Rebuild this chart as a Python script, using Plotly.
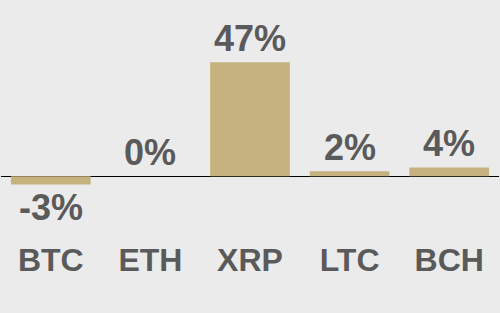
import plotly.graph_objects as go

categories = ["BTC", "ETH", "XRP", "LTC", "BCH"]
values = [-3.5, 0.0, 47.0, 2.0, 3.6]
labels = ["-3%", "0%", "47%", "2%", "4%"]

bg = "#ebebeb"
bar_color = "#c6b27e"
text_color = "#5a5a5a"
font_family = "Liberation Sans, Arial, sans-serif"

fig = go.Figure()
fig.add_trace(go.Bar(x=categories, y=values, marker=dict(color=bar_color, line=dict(width=0)),
                     width=0.8, hoverinfo="skip"))

for c, v, t in zip(categories, values, labels):
    fig.add_annotation(x=c, y=v, text="<b>%s</b>" % t, showarrow=False,
                       yanchor="bottom" if v >= 0 else "top",
                       yshift=1 if v >= 0 else 0,
                       font=dict(size=36, color=text_color, family=font_family))

fig.update_layout(
    width=500, height=313,
    margin=dict(l=1, r=1, t=0, b=78),
    paper_bgcolor=bg, plot_bgcolor=bg,
    showlegend=False,
    bargap=0.2,
    xaxis=dict(showgrid=False, showline=False, ticks="", ticklabelstandoff=3,
               tickfont=dict(size=32, color=text_color, family=font_family),
               tickprefix="<b>", ticksuffix="</b>", fixedrange=True),
    yaxis=dict(range=[-24.3, 72.7], showgrid=False, showticklabels=False, zeroline=True,
               zerolinecolor="#000000", zerolinewidth=1, fixedrange=True),
)

fig.write_html("out.html")
